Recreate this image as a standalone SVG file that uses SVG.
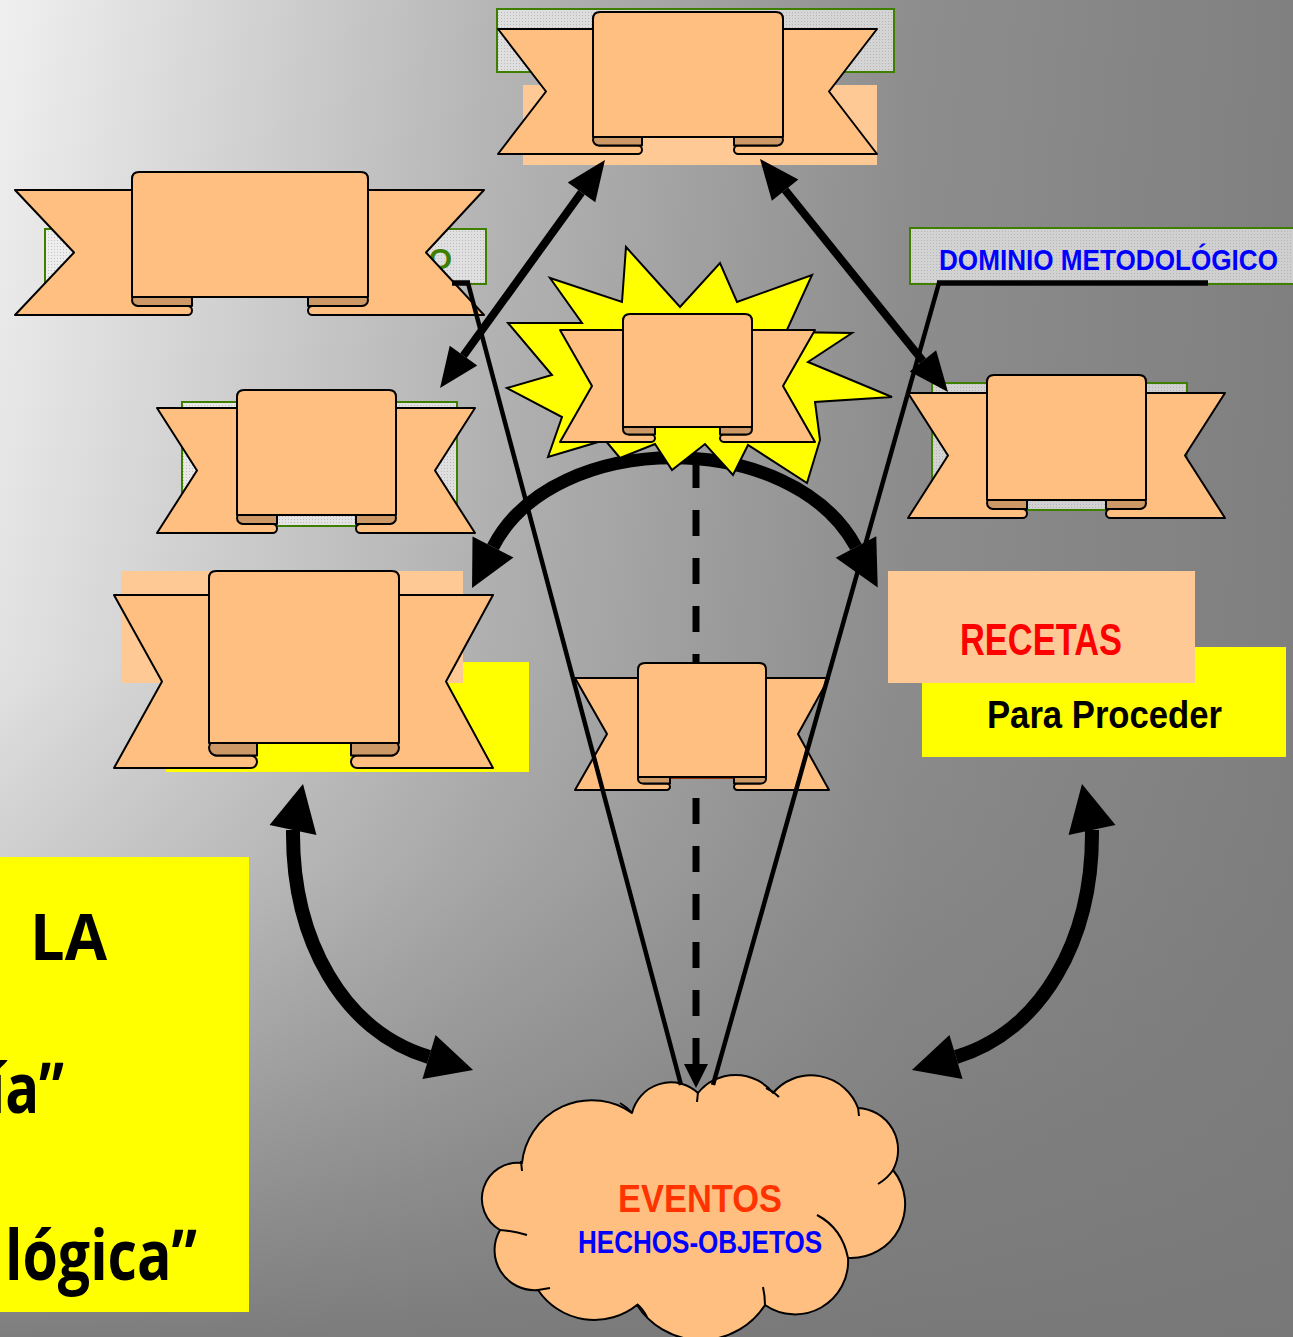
<svg xmlns="http://www.w3.org/2000/svg" xmlns:xlink="http://www.w3.org/1999/xlink" width="1293" height="1337" viewBox="0 0 1293 1337">
<defs>
<linearGradient id="bgH" x1="0" y1="0" x2="1293" y2="0" gradientUnits="userSpaceOnUse">
<stop offset="0" stop-color="#f0f0f0"/>
<stop offset="0.38" stop-color="#b6b6b6"/>
<stop offset="0.7" stop-color="#8e8e8e"/>
<stop offset="1" stop-color="#808080"/>
</linearGradient>
<linearGradient id="bgV" x1="0" y1="0" x2="0" y2="1337" gradientUnits="userSpaceOnUse">
<stop offset="0" stop-color="#787878" stop-opacity="0"/>
<stop offset="0.5" stop-color="#787878" stop-opacity="0.12"/>
<stop offset="0.65" stop-color="#787878" stop-opacity="0.28"/>
<stop offset="0.8" stop-color="#787878" stop-opacity="0.55"/>
<stop offset="1" stop-color="#787878" stop-opacity="0.95"/>
</linearGradient>
<pattern id="dots" width="3" height="3" patternUnits="userSpaceOnUse">
<rect width="3" height="3" fill="#f2f2f2" fill-opacity="0.7"/>
<rect width="1" height="1" fill="#999999" fill-opacity="0.5"/>
</pattern>
<path id="ah" d="M0,-1 L1,0 L0,1 Z"/>
<style>
.w{fill:#ffbf80;stroke:#000;stroke-width:2;stroke-linejoin:round}
.k{fill:#cc9966;stroke:#000;stroke-width:2;stroke-linejoin:round}
.gb{fill:url(#dots);stroke:#3f7f00;stroke-width:2}
.pe{fill:#ffc996}
.ye{fill:#ffff00}
.ln{fill:none;stroke:#000}
.hd{fill:#000}
.ci{fill:none;stroke:#000;stroke-width:2}
.nar{font-family:'Liberation Sans Narrow','Liberation Sans',Arial,sans-serif;font-weight:bold}
.cm{font-family:'Open Sans','DejaVu Sans',sans-serif;font-weight:bold}
</style>
</defs>

<g id="background">
<rect width="1293" height="1337" fill="url(#bgH)"/>
<rect width="1293" height="1337" fill="url(#bgV)"/>
</g>

<g id="ribbon-top">
<rect class="gb" x="497" y="9" width="397" height="63"/>
<rect class="pe" x="523" y="85" width="354" height="80"/>
<path class="w" d="M498,29 L599,29 L599,145.5 L637.75,145.5 A4.25 4.25 0 0 1 637.75,154 L498,154 L546,91.5 Z"/>
<path class="w" d="M877,29 L777,29 L777,145.5 L738.25,145.5 A4.25 4.25 0 0 0 738.25,154 L877,154 L829,91.5 Z"/>
<path class="k" d="M642,134 L642,145.5 L598.75,145.5 A5.75 5.75 0 0 1 598.75,134 Z"/>
<path class="k" d="M734,134 L734,145.5 L777.25,145.5 A5.75 5.75 0 0 0 777.25,134 Z"/>
<path class="w" d="M593,137 L593,19 Q593,12 600,12 L776,12 Q783,12 783,19 L783,137 Z"/>
</g>

<g id="ribbon-top-left">
<rect class="gb" x="45" y="229" width="441" height="55"/>
<text class="nar" x="452" y="269" font-size="30" fill="#3f7f00" text-anchor="end">O</text>
<path class="w" d="M15,190 L138,190 L138,306 L187.5,306 A4.5 4.5 0 0 1 187.5,315 L15,315 L74,252.5 Z"/>
<path class="w" d="M484,190 L362,190 L362,306 L312.5,306 A4.5 4.5 0 0 0 312.5,315 L484,315 L426,252.5 Z"/>
<path class="k" d="M192,294 L192,306 L138,306 A6 6 0 0 1 138,294 Z"/>
<path class="k" d="M308,294 L308,306 L362,306 A6 6 0 0 0 362,294 Z"/>
<path class="w" d="M132,297 L132,179 Q132,172 139,172 L361,172 Q368,172 368,179 L368,297 Z"/>
</g>

<g id="dominio-metodologico">
<rect class="gb" x="910" y="228" width="385" height="56"/>
<text class="nar" x="939" y="270" font-size="30" fill="#0000ff" textLength="339" lengthAdjust="spacingAndGlyphs">DOMINIO METODOLÓGICO</text>
</g>

<g id="ribbon-right">
<rect class="gb" x="932" y="383" width="255" height="127"/>
<path class="w" d="M908,393 L993,393 L993,509 L1022.5,509 A4.5 4.5 0 0 1 1022.5,518 L908,518 L948,455.5 Z"/>
<path class="w" d="M1225,393 L1140,393 L1140,509 L1110.5,509 A4.5 4.5 0 0 0 1110.5,518 L1225,518 L1185,455.5 Z"/>
<path class="k" d="M1027,497 L1027,509 L993,509 A6 6 0 0 1 993,497 Z"/>
<path class="k" d="M1106,497 L1106,509 L1140,509 A6 6 0 0 0 1140,497 Z"/>
<path class="w" d="M987,500 L987,382 Q987,375 994,375 L1139,375 Q1146,375 1146,382 L1146,500 Z"/>
</g>

<g id="ribbon-left-mid">
<rect class="gb" x="182" y="402" width="275" height="124"/>
<path class="w" d="M157,408 L243,408 L243,524 L272.5,524 A4.5 4.5 0 0 1 272.5,533 L157,533 L197,470.5 Z"/>
<path class="w" d="M475,408 L390,408 L390,524 L360.5,524 A4.5 4.5 0 0 0 360.5,533 L475,533 L435,470.5 Z"/>
<path class="k" d="M277,512 L277,524 L243,524 A6 6 0 0 1 243,512 Z"/>
<path class="k" d="M356,512 L356,524 L390,524 A6 6 0 0 0 390,512 Z"/>
<path class="w" d="M237,515 L237,397 Q237,390 244,390 L389,390 Q396,390 396,397 L396,515 Z"/>
</g>

<g id="ribbon-left-low">
<rect class="ye" x="166" y="662" width="363" height="110"/>
<rect class="pe" x="121" y="571" width="342" height="112"/>
<path class="w" d="M114,595 L215,595 L215,755.5 L250.75,755.5 A6.25 6.25 0 0 1 250.75,768 L114,768 L162,681.5 Z"/>
<path class="w" d="M493,595 L393,595 L393,755.5 L357.25,755.5 A6.25 6.25 0 0 0 357.25,768 L493,768 L446,681.5 Z"/>
<path class="k" d="M257,740 L257,755.5 L216.75,755.5 A7.75 7.75 0 0 1 216.75,740 Z"/>
<path class="k" d="M351,740 L351,755.5 L391.25,755.5 A7.75 7.75 0 0 0 391.25,740 Z"/>
<path class="w" d="M209,743 L209,578 Q209,571 216,571 L392,571 Q399,571 399,578 L399,743 Z"/>
</g>

<g id="recetas">
<rect class="ye" x="922" y="647" width="364" height="110"/>
<rect class="pe" x="888" y="571" width="307" height="112"/>
<text class="nar" x="960" y="655" font-size="44" fill="#ff0000" textLength="162" lengthAdjust="spacingAndGlyphs">RECETAS</text>
<text class="nar" x="987" y="728" font-size="39" fill="#000000" textLength="235" lengthAdjust="spacingAndGlyphs">Para Proceder</text>
</g>

<g id="ribbon-center-low">
<rect x="670" y="774" width="64" height="5" fill="#993300"/>
<path class="w" d="M575,678 L644,678 L644,783.5 L666.75,783.5 A3.25 3.25 0 0 1 666.75,790 L575,790 L607,734 Z"/>
<path class="w" d="M829,678 L760,678 L760,783.5 L737.25,783.5 A3.25 3.25 0 0 0 737.25,790 L829,790 L798,734 Z"/>
<path class="k" d="M670,774 L670,783.5 L642.75,783.5 A4.75 4.75 0 0 1 642.75,774 Z"/>
<path class="k" d="M734,774 L734,783.5 L761.25,783.5 A4.75 4.75 0 0 0 761.25,774 Z"/>
<path class="w" d="M638,777 L638,670 Q638,663 645,663 L759,663 Q766,663 766,670 L766,777 Z"/>
</g>

<g id="eventos-cloud">
<path class="w" stroke-width="2.5" d="M698,1093 A48 48 0 0 1 773,1093 A50 50 0 0 1 858,1108 A42 42 0 0 1 893,1170 A54 54 0 0 1 848,1258 A53 53 0 0 1 765,1305 A76 76 0 0 1 637,1305 A68 68 0 0 1 538,1290 A40 40 0 0 1 500,1230 A36 36 0 0 1 522,1163 A70 70 0 0 1 632,1113 A40 40 0 0 1 698,1093 Z"/>
<path class="ci" d="M698,1092 L697,1102 M766,1088 Q773,1091 779,1097 M858,1107 L859,1116 M893,1170 Q888,1178 878,1184 M817,1215 Q842,1228 848,1258 M763,1287 Q765,1296 765,1305 M637,1304 Q643,1309 647,1317 M538,1290 L550,1288 M500,1230 Q514,1231 527,1235 M521,1161 L522,1171 M620,1103 Q627,1107 632,1113"/>
<text class="nar" x="618" y="1212" font-size="39" fill="#ff3300" textLength="164" lengthAdjust="spacingAndGlyphs">EVENTOS</text>
<text class="nar" x="578" y="1253" font-size="31" fill="#0000ff" textLength="244" lengthAdjust="spacingAndGlyphs">HECHOS-OBJETOS</text>
</g>

<g id="yellow-note">
<rect class="ye" x="0" y="857" width="249" height="455"/>
<text class="cm" x="30" y="960" font-size="64" textLength="77" lengthAdjust="spacingAndGlyphs">LA</text>
<text class="cm" x="-12" y="1113" font-size="70" textLength="76" lengthAdjust="spacingAndGlyphs">ía”</text>
<text class="cm" x="5" y="1280" font-size="70" textLength="192" lengthAdjust="spacingAndGlyphs">lógica”</text>
</g>

<g id="connectors">
<path class="ln" stroke-width="4.5" d="M468,283 L681,1085"/>
<path class="ln" stroke-width="4.5" d="M939,283 L713,1085"/>
<path class="ln" stroke-width="5.5" d="M452,283 L470,283"/>
<path class="ln" stroke-width="5.5" d="M937,283 L1208,283"/>
<path class="ln" stroke-width="7" stroke-dasharray="26 22" d="M696,462 L696,663 M696,798 L696,1064"/>
<use href="#ah" class="hd" transform="translate(696,1064) rotate(90) scale(24,12)"/>
<path class="ln" stroke-width="8" d="M581.5,192.4 L463.5,355.6"/>
<use href="#ah" class="hd" transform="translate(581.5,192.4) rotate(-54.1) scale(40,17)"/>
<use href="#ah" class="hd" transform="translate(463.5,355.6) rotate(125.9) scale(40,17)"/>
<path class="ln" stroke-width="8" d="M785.1,190.1 L922.9,360.9"/>
<use href="#ah" class="hd" transform="translate(922.9,360.9) rotate(51.1) scale(40,17)"/>
<use href="#ah" class="hd" transform="translate(785.1,190.1) rotate(231.1) scale(40,17)"/>
<path class="ln" stroke-width="13" d="M493,547 C554,428 792,428 856,547"/>
<use href="#ah" class="hd" transform="translate(493,547) rotate(117.1) scale(46,23)"/>
<use href="#ah" class="hd" transform="translate(856,547) rotate(61.8) scale(46,23)"/>
<g id="arrow-left-bottom">
<path class="ln" stroke-width="14" d="M293,830 C292,940 343,1031 429,1057"/>
<use href="#ah" class="hd" transform="translate(293,830) rotate(-77.7) scale(47,24)"/>
<use href="#ah" class="hd" transform="translate(429,1057) rotate(16.5) scale(46,23)"/>
</g>
<use href="#arrow-left-bottom" transform="matrix(-1,0,0,1,1385,0)"/>
</g>

<g id="starburst">
<polygon points="626,247 680,307 720,263 737,302 812,275 786,332 852,333 808,362 892,397 815,402 820,440 807,483 748,445 733,475 705,444 672,470 655,444 620,458 605,440 548,457 562,417 507,388 552,375 508,323 582,323 550,278 622,302" fill="#ffff00" stroke="#000" stroke-width="2" stroke-linejoin="miter"/>
</g>

<g id="ribbon-center-star">
<path class="w" d="M560,330 L629,330 L629,434.5 L651.25,434.5 A3.75 3.75 0 0 1 651.25,442 L560,442 L592,386 Z"/>
<path class="w" d="M815,330 L746,330 L746,434.5 L723.75,434.5 A3.75 3.75 0 0 0 723.75,442 L815,442 L783,386 Z"/>
<path class="k" d="M655,424 L655,434.5 L628.25,434.5 A5.25 5.25 0 0 1 628.25,424 Z"/>
<path class="k" d="M720,424 L720,434.5 L746.75,434.5 A5.25 5.25 0 0 0 746.75,424 Z"/>
<path class="w" d="M623,427 L623,321 Q623,314 630,314 L745,314 Q752,314 752,321 L752,427 Z"/>
</g>
</svg>
